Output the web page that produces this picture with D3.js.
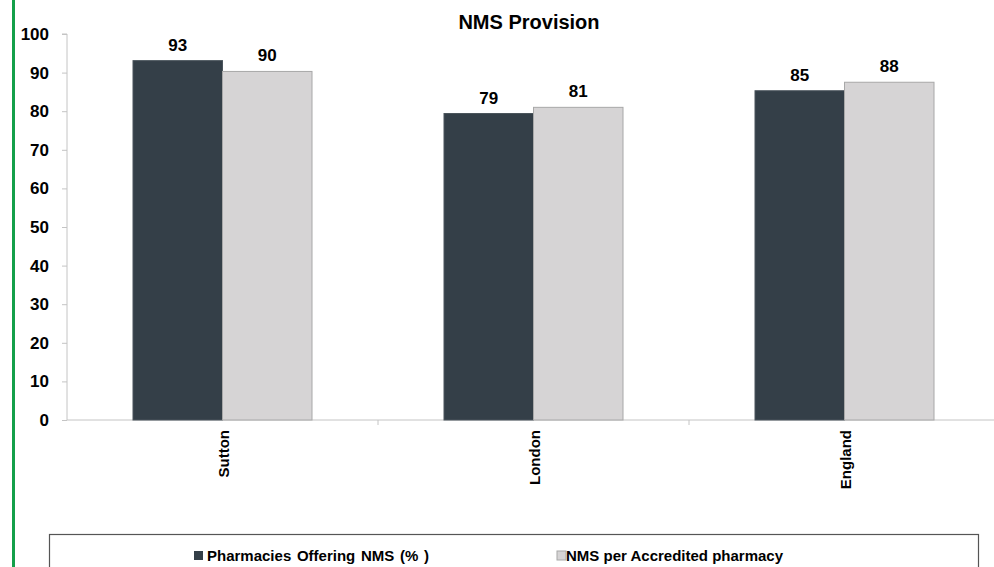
<!DOCTYPE html>
<html>
<head>
<meta charset="utf-8">
<script src="https://cdn.jsdelivr.net/npm/d3@7"></script>
<style>
  body { margin:0; background:#fff; }
  svg text { font-family: "Liberation Sans", Arial, sans-serif; font-weight:bold; }
</style>
</head>
<body>
<div id="canvas"></div>
<script>
// data
var categories = ['Sutton', 'London', 'England'];
var seriesNames = ['Pharmacies Offering NMS (% )', 'NMS per Accredited pharmacy'];
var offering = [93.1, 79.4, 85.3];
var perPharmacy = [90.3, 81.0, 87.5];
var yTicks = [0,10,20,30,40,50,60,70,80,90,100];
var colors = ['#343f48', '#d6d4d5'];

var W = 994, H = 567;
var m = {t:34, l:67, b:147};
var y0 = H - m.b; // 420

var svg = d3.select('#canvas').append('svg')
    .attr('width', W).attr('height', H);

// green side rule
svg.append('rect').attr('x', 12).attr('y', 0).attr('width', 3).attr('height', H).attr('fill', '#14a04a');

var scaleX = d3.scaleBand().domain(categories).range([m.l, m.l + 3*311]);
var scaleY = d3.scaleLinear().domain([0, 100]).range([y0, m.t]);

var inner = d3.scaleBand().domain([0,1]).range([0, 179]);

// axes
var axisY = d3.axisLeft(scaleY).tickValues(yTicks).tickSize(5).tickPadding(13);
var gy = svg.append('g').attr('transform', 'translate(' + m.l + ',0)').call(axisY);
gy.selectAll('path, line').attr('stroke', '#c4c4c4');
gy.select('.domain').attr('d', 'M-5,' + m.t + 'H0V' + y0);
gy.selectAll('text').attr('font-size', 17).attr('fill', '#000')
    .style('font-family', '"Liberation Sans", Arial, sans-serif').style('font-weight', 'bold');

// baseline + category dividers
svg.append('line').attr('x1', m.l).attr('x2', W).attr('y1', y0).attr('y2', y0).attr('stroke', '#c4c4c4');
categories.slice(1).forEach(function(c){
  var x = scaleX(c);
  svg.append('line').attr('x1', x).attr('x2', x).attr('y1', y0).attr('y2', y0 + 5).attr('stroke', '#c4c4c4');
});

// bars
var rows = categories.map(function(c, i){ return {cat:c, vals:[offering[i], perPharmacy[i]]}; });
var groups = svg.selectAll('.grp').data(rows).enter().append('g')
    .attr('transform', function(d){ return 'translate(' + (scaleX(d.cat) + scaleX.bandwidth()/2 - 89.5) + ',0)'; });

groups.selectAll('rect').data(function(d){ return d.vals; }).enter().append('rect')
    .attr('x', function(d, i){ return inner(i); })
    .attr('y', function(d){ return scaleY(d); })
    .attr('width', inner.bandwidth())
    .attr('height', function(d){ return y0 - scaleY(d); })
    .attr('fill', function(d, i){ return colors[i]; })
    .attr('stroke', function(d, i){ return i ? '#a8a8a8' : '#4a545c'; })
    .attr('stroke-width', 1);

groups.selectAll('.lbl').data(function(d){ return d.vals; }).enter().append('text')
    .attr('x', function(d, i){ return inner(i) + inner.bandwidth()/2; })
    .attr('y', function(d){ return scaleY(d) - 10; })
    .attr('text-anchor', 'middle').attr('font-size', 17)
    .text(function(d){ return Math.round(d); });

// category labels
svg.selectAll('.cat').data(categories).enter().append('text')
    .attr('transform', function(d){ return 'translate(' + (scaleX(d) + scaleX.bandwidth()/2 + 6) + ',' + (y0 + 10) + ') rotate(-90)'; })
    .attr('text-anchor', 'end').attr('font-size', 15)
    .text(function(d){ return d; });

// title
svg.append('text').attr('x', 529).attr('y', 29).attr('text-anchor', 'middle')
    .attr('font-size', 20).text('NMS Provision');

// legend
var lg = svg.append('g');
lg.append('rect').attr('x', 49.5).attr('y', 534.5).attr('width', 929).attr('height', 40)
    .attr('fill', '#fff').attr('stroke', '#555').attr('stroke-width', 1.2);
var legX = [194, 557];
seriesNames.forEach(function(s, i){
  lg.append('rect').attr('x', legX[i]).attr('y', 551).attr('width', 9).attr('height', 9)
    .attr('fill', colors[i]).attr('stroke', i ? '#a8a8a8' : 'none');
  lg.append('text').attr('x', legX[i] + (i ? 9 : 13)).attr('y', 560.5).attr('font-size', 15)
    .attr('word-spacing', i ? 0 : 1.5)
    .text(s);
});
</script>
</body>
</html>
